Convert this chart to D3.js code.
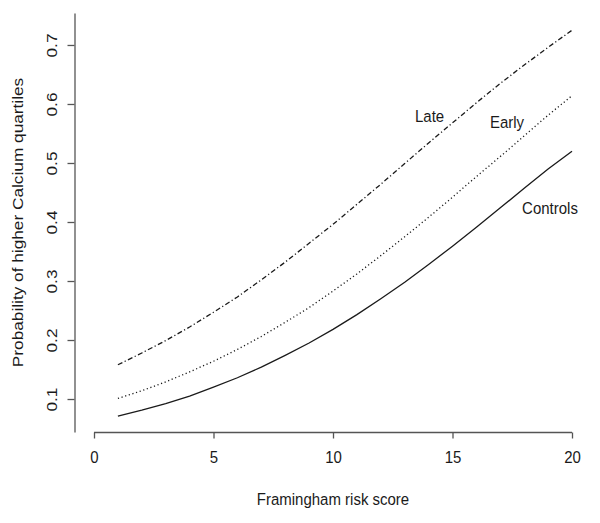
<!DOCTYPE html>
<html>
<head>
<meta charset="utf-8">
<script src="https://cdn.jsdelivr.net/npm/d3@7"></script>
<style>
  html, body { margin: 0; padding: 0; background: #fff; }
  svg { display: block; font-family: "Liberation Sans", Arial, sans-serif; }
</style>
</head>
<body>
<div id="chart"></div>
<script>
// ---- data ----
const scores = [1,2,3,4,5,6,7,8,9,10,11,12,13,14,15,16,17,18,19,20];
const controls = [0.071,0.081,0.092,0.105,0.120,0.136,0.154,0.174,0.195,0.218,0.243,0.270,0.298,0.328,0.359,0.391,0.424,0.457,0.490,0.520];
const early    = [0.101,0.114,0.129,0.146,0.164,0.184,0.206,0.230,0.255,0.283,0.312,0.343,0.375,0.408,0.442,0.477,0.511,0.546,0.581,0.614];
const late     = [0.158,0.178,0.199,0.222,0.247,0.273,0.302,0.332,0.364,0.396,0.430,0.464,0.499,0.534,0.568,0.602,0.635,0.666,0.696,0.725];
const seriesNames = ["Controls", "Early", "Late"];
const xTicks = [0, 5, 10, 15, 20];
const yTicks = [0.1, 0.2, 0.3, 0.4, 0.5, 0.6, 0.7];
const xTitle = "Framingham risk score";
const yTitle = "Probability of higher Calcium quartiles";

// ---- layout ----
const W = 600, H = 523;
const svg = d3.select("#chart").append("svg").attr("width", W).attr("height", H);

const x = d3.scaleLinear().domain([0, 20]).range([94, 572]);
const y = d3.scaleLinear().domain([0.0441, 0.7542]).range([432, 13]);

const axisColor = "#555";
const textColor = "#1a1a1a";
const fontSize = 15;
const vs = 1.1;   // vertical stretch of horizontal text
const vsr = 1.15; // vertical stretch of rotated text
const ff = '"Liberation Sans", Arial, sans-serif';

// X axis
const gx = svg.append("g").attr("transform", `translate(0,432.5)`)
  .call(d3.axisBottom(x).tickValues(xTicks).tickSize(6).tickSizeOuter(0).tickFormat(d3.format("d")));
gx.select(".domain").attr("stroke", axisColor).attr("stroke-width", 1.3).attr("d", `M${x(0)},0H${x(20)}`);
gx.selectAll(".tick line").attr("stroke", axisColor).attr("stroke-width", 1.3);
gx.selectAll(".tick text").attr("fill", textColor).style("font-size", fontSize + "px")
  .style("font-family", ff)
  .attr("y", null).attr("dy", null)
  .attr("transform", `translate(0,30) scale(1,${vs})`);

// Y axis
const gy = svg.append("g").attr("transform", `translate(74.5,0)`)
  .call(d3.axisLeft(y).tickValues(yTicks).tickSize(7).tickSizeOuter(0).tickFormat(d3.format(".1f")));
gy.select(".domain").attr("stroke", axisColor).attr("stroke-width", 1.3);
gy.selectAll(".tick line").attr("stroke", axisColor).attr("stroke-width", 1.3);
gy.selectAll(".tick text")
  .attr("fill", textColor)
  .style("font-size", fontSize + "px")
  .style("font-family", ff)
  .attr("x", null).attr("dy", null)
  .attr("text-anchor", "middle")
  .attr("transform", `translate(-17.5,0) scale(1,${vsr}) rotate(-90)`);

// Axis titles
svg.append("text")
  .attr("transform", `translate(${(x(0) + x(20)) / 2},505) scale(1,${vs})`)
  .attr("text-anchor", "middle").attr("fill", textColor).style("font-size", fontSize + "px")
  .text(xTitle);
svg.append("text")
  .attr("transform", `translate(23,${(y.range()[0] + y.range()[1]) / 2}) scale(1,${vsr}) rotate(-90)`)
  .attr("text-anchor", "middle").attr("fill", textColor).style("font-size", fontSize + "px")
  .text(yTitle);

// Lines
const seriesValues = [controls, early, late];
const dashes = [null, "1.2,2.6", "5,2.5,1.2,2.5"];
const line = d3.line().x(d => x(d[0])).y(d => y(d[1]));
seriesValues.forEach((vals, i) => {
  svg.append("path")
    .datum(scores.map((s, j) => [s, vals[j]]))
    .attr("d", line)
    .attr("fill", "none")
    .attr("stroke", "#1a1a1a")
    .attr("stroke-width", 1.3)
    .attr("stroke-dasharray", dashes[i]);
});

// Series labels (baseline anchored)
const labelPos = [[19.08, 0.413], [17.28, 0.5593], [14.04, 0.5695]];
seriesNames.forEach((name, i) => {
  svg.append("text")
    .attr("transform", `translate(${x(labelPos[i][0])},${y(labelPos[i][1])}) scale(1,${vs})`)
    .attr("text-anchor", "middle")
    .attr("fill", textColor)
    .style("font-size", fontSize + "px")
    .text(name);
});
</script>
</body>
</html>
